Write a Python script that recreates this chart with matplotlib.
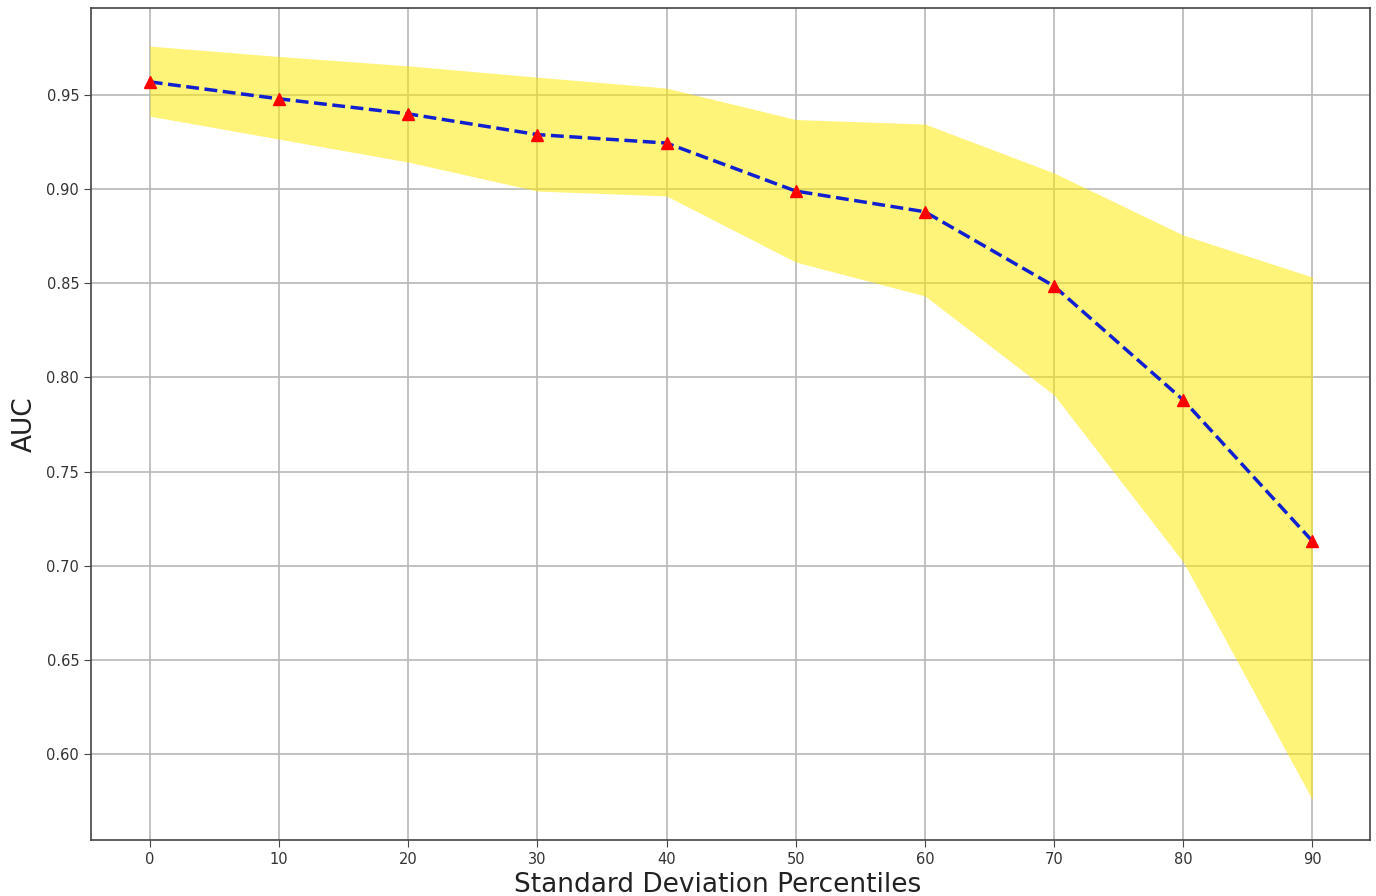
import matplotlib.pyplot as plt
import numpy as np

plt.rcParams["font.family"] = "DejaVu Sans"

PERCENTILES = [0, 10, 20, 30, 40, 50, 60, 70, 80, 90]
AUC_MEAN = [0.957, 0.948, 0.940, 0.929, 0.9245, 0.899, 0.888, 0.8485, 0.788, 0.713]
AUC_UPPER = [0.976, 0.9705, 0.9655, 0.9595, 0.9537, 0.937, 0.9346, 0.9086, 0.8756, 0.8533]
AUC_LOWER = [0.9388, 0.9266, 0.9144, 0.899, 0.8964, 0.8613, 0.8433, 0.7907, 0.702, 0.5756]


def main() -> None:
    fig = plt.figure(figsize=(13.76, 8.96), dpi=100)
    ax = fig.add_axes([0.0661, 0.0625, 0.9295, 0.9285])

    ax.fill_between(PERCENTILES, AUC_LOWER, AUC_UPPER, color="#ffeb00", alpha=0.52, linewidth=0)
    ax.plot(PERCENTILES, AUC_MEAN, "--", color="#1020d0", linewidth=2.5, zorder=3)
    ax.plot(PERCENTILES, AUC_MEAN, "^", color="red", markersize=8, zorder=4)

    ax.set_xticks(np.arange(0, 91, 10))
    ax.set_yticks([0.60, 0.65, 0.70, 0.75, 0.80, 0.85, 0.90, 0.95])
    ax.set_xlim(-4.55, 94.45)
    ax.set_ylim(0.5543, 0.9962)
    ax.grid(color="#b8b8b8", linewidth=1.2)
    ax.set_axisbelow(True)
    ax.tick_params(labelsize=10.5, labelcolor="#333333", length=5, color="#444444")
    for spine in ax.spines.values():
        spine.set_color("#444444")
        spine.set_linewidth(1.2)

    ax.set_xlabel("Standard Deviation Percentiles", fontsize=19, color="#222222")
    ax.xaxis.set_label_coords(0.49, -0.038, transform=ax.transAxes)
    ax.set_ylabel("AUC", fontsize=19, color="#222222", labelpad=6)

    fig.savefig("out.png", dpi=100)


main() if __name__ == "__main__" else None
